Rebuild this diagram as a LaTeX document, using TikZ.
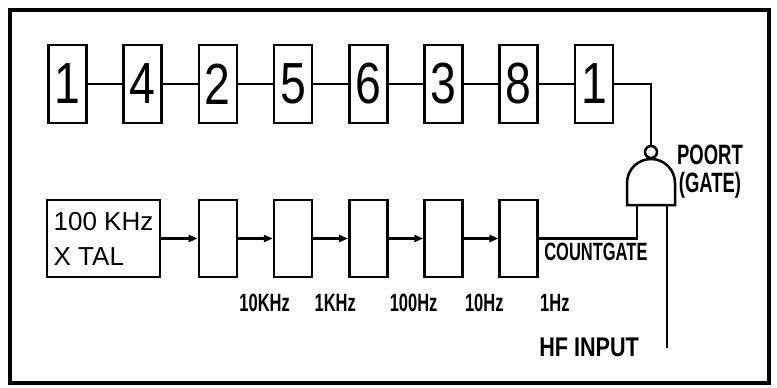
\documentclass[tikz,border=0pt]{standalone}
\usepackage{fontspec}
\setmainfont{Liberation Sans}
\newfontfamily\digitfont[FakeStretch=0.8]{Liberation Sans}
\newfontfamily\narrowfont[FakeStretch=0.66]{Liberation Sans}
\usetikzlibrary{arrows.meta}
\begin{document}
\begin{tikzpicture}[x=1pt,y=-1pt,node distance=75.2pt,line width=2.5pt,
	digit/.style={draw,minimum width=38pt,minimum height=78pt,inner sep=0pt,font=\digitfont\fontsize{58}{58}\selectfont},
	divider/.style={draw,minimum width=38pt,minimum height=77pt,inner sep=0pt},
	freq/.style={anchor=north west,inner sep=0pt,font=\narrowfont\bfseries\fontsize{25}{25}\selectfont},
	lbl/.style={inner sep=0pt,font=\narrowfont\bfseries\fontsize{28}{28}\selectfont},
	>={Triangle[length=9pt,width=7pt]}]
	\useasboundingbox (0,0) rectangle (777,388);
	\draw[line width=4pt] (10,10) rectangle (769,383);
	% code row
	\node[digit] (c1) at (67.5,84) {1};
	\node[digit,right of=c1] (c2) {4};
	\node[digit,right of=c2] (c3) {2};
	\node[digit,right of=c3] (c4) {5};
	\node[digit,right of=c4] (c5) {6};
	\node[digit,right of=c5] (c6) {3};
	\node[digit,right of=c6] (c7) {8};
	\node[digit,right of=c7] (c8) {1};
	\path (c1) edge (c2)
	(c2) edge (c3)
	(c3) edge (c4)
	(c4) edge (c5)
	(c5) edge (c6)
	(c6) edge (c7)
	(c7) edge (c8);
	% crystal and dividers
	\node[draw,minimum width=113pt,minimum height=77pt,inner sep=0pt,align=left,
		font=\fontsize{26}{35}\selectfont] (xtal) at (103.5,238.5) {100 KHz\\X TAL};
	\node[divider] (d1) at (c3 |- xtal) {};
	\node[divider,right of=d1] (d2) {};
	\node[divider,right of=d2] (d3) {};
	\node[divider,right of=d3] (d4) {};
	\node[divider,right of=d4] (d5) {};
	\path[->] (xtal) edge (d1)
	(d1) edge (d2)
	(d2) edge (d3)
	(d3) edge (d4)
	(d4) edge (d5);
	\node[freq] (f10k) at ([yshift=-15pt]d1.south east) {10KHz};
	\node[freq] (f1k) at ([yshift=-15pt]d2.south east) {1KHz};
	\node[freq] (f100) at ([yshift=-15pt]d3.south east) {100Hz};
	\node[freq] (f10) at ([yshift=-15pt]d4.south east) {10Hz};
	\node[freq] (f1) at ([yshift=-15pt]d5.south east) {1Hz};
	% gate
	\node[circle,draw,minimum size=12pt,inner sep=0pt] (bub) at (651,152) {};
	\draw (627,205) -- (627,183) arc[start angle=180,end angle=360,radius=24] -- (675,205) -- cycle;
	\coordinate (ga) at (637,205);
	\coordinate (gb) at (667,205);
	\coordinate (hf) at (667,348);
	\draw (c8) -| (bub);
	\draw (d5) -| (ga);
	\draw (gb) -- (hf);
	\node[lbl,align=center] (gate) at (710,172) {POORT\\(GATE)};
	\node[lbl,anchor=north west,font=\narrowfont\bfseries\fontsize{25}{25}\selectfont] (cg) at (543,242) {COUNTGATE};
	\node[inner sep=0pt,anchor=west,font=\digitfont\bfseries\fontsize{27}{27}\selectfont] (hfl) at (538,347) {HF INPUT};
\end{tikzpicture}
\end{document}
